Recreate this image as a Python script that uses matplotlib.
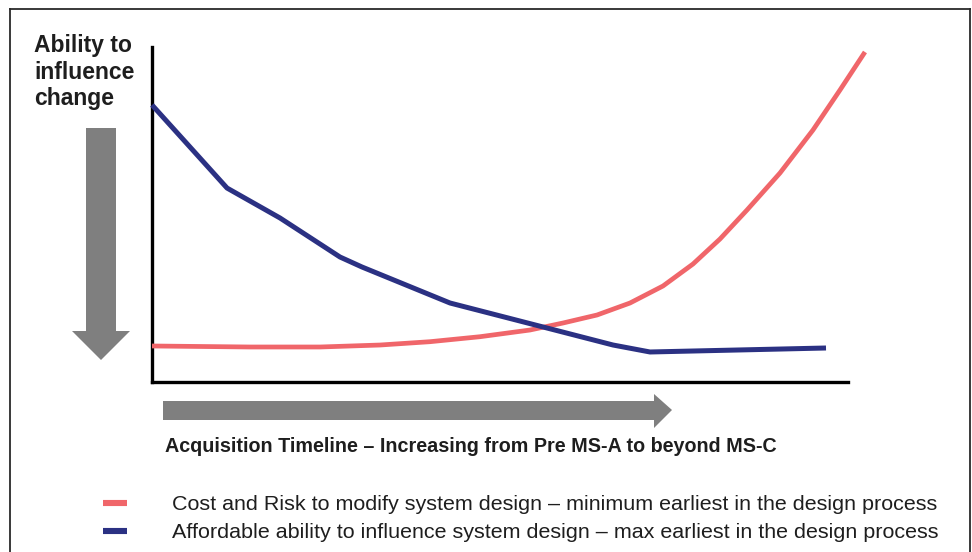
import matplotlib
matplotlib.use("Agg")
import matplotlib.pyplot as plt
from matplotlib.lines import Line2D
from matplotlib.patches import Polygon

# ---- data (x: timeline 0-100, y: relative level 0-100) ----
cost_x = [0, 14.08, 24.14, 32.76, 39.94, 47.13, 54.31, 59.05, 63.94, 68.68,
          73.42, 77.73, 81.61, 85.49, 90.23, 94.97, 98.85, 102.44]
cost_y = [10.75, 10.45, 10.45, 11.04, 12.03, 13.52, 15.52, 17.61, 20.0, 23.58,
          28.66, 35.22, 42.69, 51.34, 62.39, 75.22, 87.16, 98.51]
ability_x = [0, 10.78, 18.39, 27.01, 30.17, 42.82, 56.75, 66.24, 71.55, 96.84]
ability_y = [82.7, 57.9, 48.96, 37.31, 34.33, 23.58, 16.12, 11.04, 8.96, 10.15]

cost_label = "Cost and Risk to modify system design \u2013 minimum earliest in the design process"
ability_label = "Affordable ability to influence system design \u2013 max earliest in the design process"
y_title = "Ability to\ninfluence\nchange"
x_title = "Acquisition Timeline \u2013 Increasing from Pre MS-A to beyond MS-C"

RED = "#F0666A"
BLUE = "#2B3183"
GRAY = "#7F7F7F"
TXT = "#1E1E1E"

W, H = 972, 552
fig = plt.figure(figsize=(W / 100, H / 100), dpi=100)
fig.patch.set_facecolor("white")

def fx(px):
    return px / W

def fy(py):
    return 1 - py / H

ax = fig.add_axes([fx(152), fy(382), (848 - 152) / W, (382 - 47) / H])
ax.set_xlim(0, 100)
ax.set_ylim(0, 100)
for s in ["top", "right"]:
    ax.spines[s].set_visible(False)
for s in ["left", "bottom"]:
    ax.spines[s].set_linewidth(2.4)
    ax.spines[s].set_color("black")
    ax.spines[s].set_capstyle("projecting")
ax.set_xticks([])
ax.set_yticks([])
ax.patch.set_alpha(0)

ax.plot(cost_x, cost_y, color=RED, lw=3.4, solid_joinstyle="round",
        solid_capstyle="butt", clip_on=False, zorder=3)
ax.plot(ability_x, ability_y, color=BLUE, lw=3.6, solid_joinstyle="round",
        solid_capstyle="butt", clip_on=False, zorder=4)

# ---- decorative arrows (figure pixels) ----
def poly(pts, **kw):
    p = Polygon([(fx(x), fy(y)) for x, y in pts], closed=True,
                transform=fig.transFigure, **kw)
    fig.add_artist(p)

poly([(86, 128), (116, 128), (116, 331), (130, 331), (101, 360),
      (72, 331), (86, 331)], facecolor=GRAY, edgecolor="none")
poly([(163, 401), (654, 401), (654, 394), (672, 410), (654, 428),
      (654, 420), (163, 420)], facecolor=GRAY, edgecolor="none")

# ---- texts ----
fig.text(fx(34), fy(34), y_title, ha="left", va="top", fontsize=16.5,
         fontweight="bold", family="Liberation Sans", color=TXT,
         linespacing=1.2)
fig.text(fx(165), fy(447), x_title, ha="left", va="center", fontsize=14.25,
         fontweight="bold", family="Liberation Sans", color=TXT)

# ---- legend (manual) ----
for yy, col, lab in [(503, RED, cost_label), (531, BLUE, ability_label)]:
    fig.add_artist(Line2D([fx(103), fx(127)], [fy(yy), fy(yy)], color=col,
                          lw=4.4, transform=fig.transFigure,
                          solid_capstyle="butt"))
    fig.text(fx(172), fy(yy + 1), lab, ha="left", va="center", fontsize=15.45,
             family="Liberation Sans", color=TXT)

# ---- frame border ----
for (x0, y0, x1, y1) in [(10, 9, 970, 9), (10, 9, 10, 552), (970, 9, 970, 552)]:
    fig.add_artist(Line2D([fx(x0), fx(x1)], [fy(y0), fy(y1)], color="#2A2A2A",
                          lw=1.3, transform=fig.transFigure))

fig.savefig("out.png", dpi=100, facecolor="white")
